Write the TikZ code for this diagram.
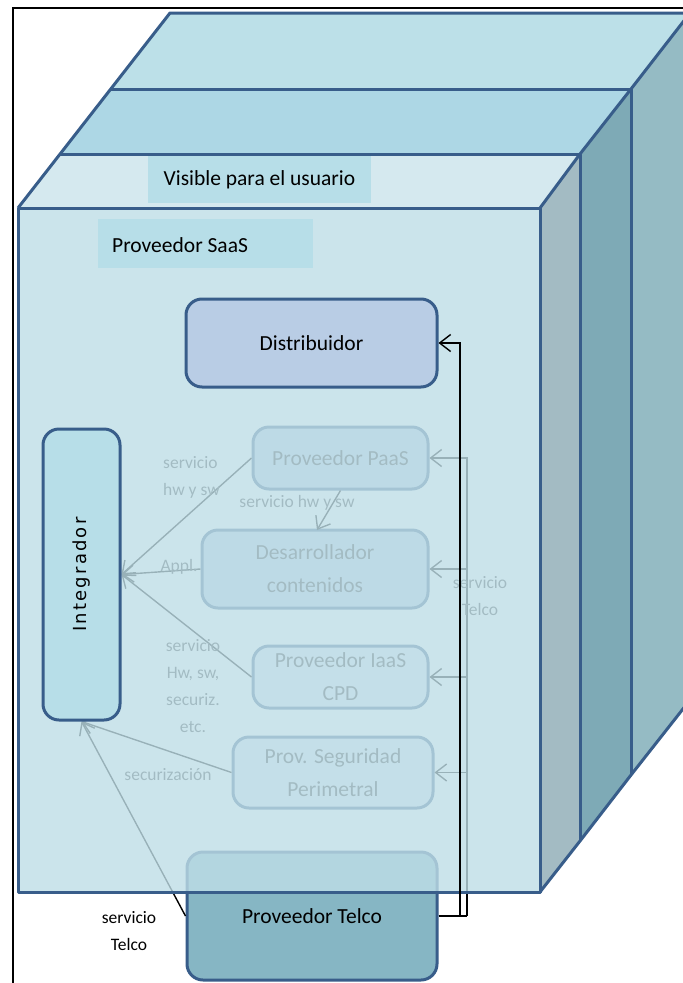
\documentclass[tikz,border=0pt]{standalone}
\usepackage{fontspec}
\setmainfont{Carlito}
\newfontfamily\vertfont[LetterSpace=12]{DejaVu Sans}
\usetikzlibrary{arrows.meta,calc}

\definecolor{edgeblue}{HTML}{385D8A}
\definecolor{topA}{HTML}{D5E9EF}
\definecolor{topB}{HTML}{ADD7E5}
\definecolor{topC}{HTML}{BCE0E8}
\definecolor{sideA}{HTML}{A3BBC3}
\definecolor{sideB}{HTML}{7EAAB6}
\definecolor{sideC}{HTML}{95BBC4}
\definecolor{frontfill}{HTML}{BFDEE7}
\definecolor{tagfill}{HTML}{B7DEE8}
\definecolor{distfill}{HTML}{B9CDE5}
\definecolor{intfill}{HTML}{B7DEE8}
\definecolor{telcofill}{HTML}{86B6C4}
\definecolor{paleA}{HTML}{B9CDE5}
\definecolor{paleB}{HTML}{DBE5F1}

\pgfdeclarelayer{back}
\pgfdeclarelayer{behind}
\pgfdeclarelayer{face}
\pgfsetlayers{back,behind,face,main}

\begin{document}
\begin{tikzpicture}[x=1pt,y=-1pt,
  cubeedge/.style={draw=edgeblue, line width=3pt, line join=round},
  box/.style={draw=edgeblue, line width=3pt, rounded corners=16pt, align=center,
    inner sep=0pt, font=\fontsize{21.5}{33}\selectfont},
  lbl/.style={font=\fontsize{17.5}{27}\selectfont, align=center, inner sep=0pt},
  link/.style={line width=1.4pt, -{Straight Barb[length=11pt,width=17pt]}},
  tag/.style={fill=tagfill, inner sep=0pt, font=\fontsize{21.5}{26}\selectfont},
]
\useasboundingbox (0,0) rectangle (683,983);
\clip (0,0) rectangle (683,983);

% ---------- outer frame and the three stacked slabs ----------
\begin{pgfonlayer}{back}
  \fill[white] (0,0) rectangle (683,983);
  \draw[line width=2pt] (13,995) -- (13,8) -- (695,8);
  \fill[topC]  (111,89) -- (631,89) -- (690,13) -- (170,13) -- cycle;
  \fill[sideC] (631,89) -- (690,13) -- (690,700) -- (631,775) -- cycle;
  \fill[topB]  (60,154) -- (580,154) -- (631,89) -- (111,89) -- cycle;
  \fill[sideB] (580,154) -- (631,89) -- (631,775) -- (580,841) -- cycle;
  \fill[topA]  (18,208) -- (540,208) -- (580,154) -- (60,154) -- cycle;
  \fill[sideA] (540,208) -- (580,154) -- (580,841) -- (540,892) -- cycle;
  \draw[cubeedge] (18,208) -- (170,13) -- (695,13);
  \draw[cubeedge] (60,154) -- (580,154) -- (580,841);
  \draw[cubeedge] (111,89) -- (631,89) -- (631,775);
  \draw[cubeedge] (540,208) -- (580,154) -- (631,89) -- (690,13);
  \draw[cubeedge] (540,892) -- (580,841) -- (631,775) -- (690,700);
  \node[tag, minimum width=223pt, minimum height=47pt] (visible) at (259.5,179.5)
    {Visible para el usuario};
\end{pgfonlayer}

% ---------- nodes in front of the front face ----------
\node[box, fill=distfill, minimum width=251pt, minimum height=88pt] (distr)
  at (311.5,343) {Distribuidor};
\node[box, fill=intfill, minimum width=77pt, minimum height=291pt,
  label={[rotate=90, font=\vertfont\fontsize{18}{20}\selectfont]center:Integrador}] (integ)
  at (81.5,574.5) {};
\node[tag, minimum width=215pt, minimum height=49pt] (saas) at (205.5,243.5) {};
\node[anchor=west, inner sep=0pt, font=\fontsize{21.5}{26}\selectfont] (saastxt)
  at (112,245) {Proveedor SaaS};

% ---------- providers seen through the front face ----------
\begin{pgfonlayer}{behind}
  \node[box, fill=telcofill, minimum width=250pt, minimum height=128pt] (telco)
    at (312,916) {Proveedor Telco};
  \node[box, fill=paleA, text=black!80, minimum width=175pt, minimum height=62pt] (paas)
    at (340.5,458) {Proveedor PaaS};
  \node[box, fill=paleA, text=black!80, minimum width=226pt, minimum height=78pt] (desa)
    at (315,569) {Desarrollador\\contenidos};
  \node[box, fill=paleB, text=black!80, minimum width=175pt, minimum height=62pt] (iaas)
    at (340.5,677) {Proveedor IaaS\\CPD};
  \node[box, fill=paleB, text=black!80, minimum width=200pt, minimum height=71pt] (segu)
    at (333,772.5) {Prov. Seguridad\\Perimetral};

  \coordinate (dtop) at (317,530);
  \coordinate (bus2) at (467,916);

  \draw[link] (paas.west) -- (integ.east);
  \draw[link] (desa.west) -- (integ.east);
  \draw[link] (iaas.west) -- (integ.east);
  \draw[link] (segu.west) -- (integ.south);
  \draw[link] (telco.west) -- (integ.south);
  \draw[link] (paas.south) -- (dtop);

  \draw[line width=1.4pt] (telco.east) -- (bus2);
  \draw[link] (bus2) |- (paas.east);
  \draw[link] (bus2) |- (desa.east);
  \draw[link] (bus2) |- (iaas.east);
  \draw[link] (bus2) |- (segu.east);

  \begin{scope}[every node/.style={lbl, text=black!80}]
    \node[align=left, anchor=west] (l1) at (163,477) {servicio\\hw y sw};
    \node (l2) at (297,503) {servicio hw y sw};
    \node (l3) at (179,567) {Appl.};
    \node (l4) at (193,686) {servicio\\Hw, sw,\\securiz.\\etc.};
    \node (l5) at (168,775) {securización};
    \node (l6) at (480,596) {servicio\\Telco};
  \end{scope}
\end{pgfonlayer}

% ---------- translucent front face ----------
\begin{pgfonlayer}{face}
  \fill[frontfill, fill opacity=0.8] (18,208) rectangle (540,892);
  \draw[cubeedge] (18,208) rectangle (540,892);
\end{pgfonlayer}

% ---------- link from the telco provider to the distributor ----------
\coordinate (bus1) at (460,916);
\draw[line width=1.4pt] (telco.east) -- (bus1);
\draw[link] (bus1) |- (distr.east);
\node[lbl] (l7) at (129,931) {servicio\\Telco};

\end{tikzpicture}
\end{document}
